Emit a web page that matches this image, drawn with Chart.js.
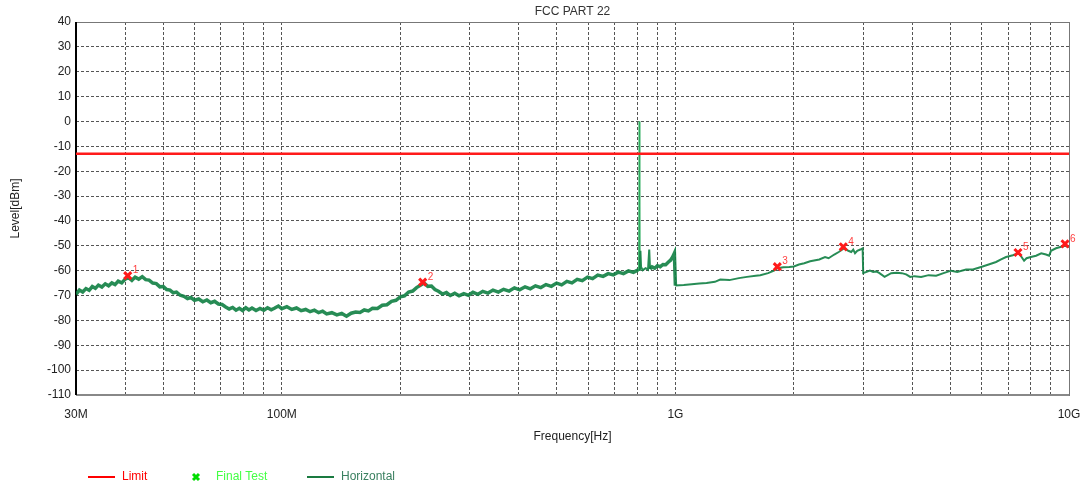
<!DOCTYPE html>
<html>
<head>
<meta charset="utf-8">
<script src="https://cdn.jsdelivr.net/npm/chart.js@4.4.1/dist/chart.umd.min.js"></script>
<style>
    html, body { margin: 0; padding: 0; background: #ffffff; }
    #wrap { width: 1087px; height: 488px; }
</style>
</head>
<body>
<div id="wrap"><canvas id="emiChart" width="1087" height="488"></canvas></div>
<script>
// frequencies in MHz, levels in dBm

var traceFreq = [
    30, 30.6, 31.2, 31.8, 32.4, 33, 33.6, 34.2, 34.9, 35.6, 36.3, 37, 37.7, 38.4, 39.2, 40, 40.8, 41.6, 42.4, 43.3,
    44.2, 45.1, 46, 47, 48, 49, 50, 51, 52, 53, 54, 55.2, 56.4, 57.6, 58.8, 60, 61.5, 63, 64.5, 66,
    67.5, 69, 70.5, 72, 73.5, 75, 76.5, 78, 79.5, 81, 82.5, 84, 86, 88, 90, 92, 94, 96, 98, 100,
    103, 106, 109, 112, 115, 118, 121, 124, 127, 130, 134, 138, 142, 146, 150, 154, 158, 162, 166, 170,
    175, 180, 185, 190, 195, 200, 205, 210, 215, 220, 225, 230, 235, 240, 245, 250, 256, 262, 268, 275,
    282, 290, 298, 306, 315, 324, 334, 344, 355, 366, 378, 390, 402, 415, 428, 441, 455, 469, 484, 499,
    514, 530, 546, 563, 580, 598, 616, 635, 655, 675, 695, 716, 738, 760, 782, 800, 806, 809, 812, 815,
    818, 826, 840, 852, 858, 862, 872, 886, 900, 915, 930, 945, 960, 972, 984, 994,
    1000, 1050, 1100, 1150, 1200, 1260, 1300, 1371, 1450, 1520, 1600, 1643, 1720, 1780, 1815, 1880, 1947, 2000, 2060, 2125,
    2200, 2320, 2400, 2450, 2533, 2600, 2685, 2750, 2797, 2830, 2860, 2897, 2950, 2990,
    3000, 3060, 3120, 3180, 3237, 3300, 3400, 3533, 3650, 3757, 3857, 3950, 4050, 4210, 4400, 4597, 4800, 5018, 5200, 5478,
    5700, 5979, 6250, 6527, 6720, 6920, 7200, 7420, 7500, 7690, 7800, 8000, 8248, 8500, 8742, 8900, 9000, 9268, 9500, 9770, 10000
];
var traceLevel = [
    -69.5, -67.8, -68.6, -67.2, -67.9, -66.4, -67.1, -65.8, -66.6, -65.3, -66.1, -64.9, -65.6, -64.2, -64.9, -63.4, -62.8, -63.9, -62.6, -63.4,
    -62.4, -63.6, -63.8, -65, -65.2, -66.5, -66.4, -67.6, -67.8, -68.9, -68.6, -69.9, -70.3, -71.2, -70.8, -71.9, -71.4, -72.5, -71.8, -72.9,
    -72.3, -73.4, -73.6, -74.6, -75.4, -74.8, -75.9, -75.1, -76, -74.9, -75.8, -75, -76, -75.2, -75.9, -74.9, -75.7, -75, -74.2, -75.3,
    -74.5, -75.6, -75, -76.1, -75.6, -76.5, -75.9, -76.9, -76.3, -77.4, -76.9, -77.8, -77.2, -78.3, -77.1, -76.6, -76.8, -75.8, -76.2, -75.1,
    -75.2, -73.9, -73.7, -72.3, -71.9, -70.5, -70.1, -68.6, -68.2, -66.8, -65.9, -65, -66.3, -66.2, -67.6, -68.3, -69.4, -68.8, -70, -69.1,
    -70.1, -69.2, -69.9, -68.7, -69.5, -68.3, -69, -67.8, -68.6, -67.5, -68.2, -66.9, -67.7, -66.5, -67.3, -66.1, -66.8, -65.6, -66.3, -65,
    -65.7, -64.3, -64.9, -63.5, -64, -62.6, -63.2, -61.8, -62.3, -61.2, -61.7, -60.6, -61.2, -60.1, -60.7, -59.9, -60.3, 0, -60, -52,
    -58.5, -59.8, -59, -59.6, -51.5, -59.3, -58.5, -59, -58, -58.4, -57.5, -57.6, -56.5, -55.8, -54.5, -53,
    -66, -65.8, -65.5, -65.2, -65, -64.5, -63.6, -63.8, -63, -62.5, -62, -61.8, -61, -60, -59, -58.6, -58.5, -58.3, -57.5, -57,
    -56.2, -55.5, -54.5, -55, -53.5, -52.5, -51, -52, -52.5, -51.5, -53, -52, -51.5, -51,
    -61, -60.5, -60, -60.5, -60.3, -61, -62.5, -61, -60.8, -61, -61.5, -62.5, -62.2, -62.5, -61.8, -62, -61, -60, -60.5, -59.5,
    -59.5, -58.5, -57.5, -56.5, -55.5, -54.5, -53.8, -53, -53.5, -56, -55, -54.5, -54, -53, -53.5, -54, -52, -51, -50.5, -50, -50.5
];

var limitFreq = [30, 10000];
var limitLevel = [-13, -13];

var markerFreq = [40.6, 228, 1815, 2670, 7420, 9770];
var markerLevel = [-62, -64.6, -58.4, -50.4, -52.7, -49.2];
var markerNames = ["1", "2", "3", "4", "5", "6"];

var gridFreq = [30, 40, 50, 60, 70, 80, 90, 100, 200, 300, 400, 500, 600, 700, 800, 900,
    1000, 2000, 3000, 4000, 5000, 6000, 7000, 8000, 9000, 10000];
var freqLabels = { 30: "30M", 100: "100M", 1000: "1G", 10000: "10G" };

var fontFamily = "'Liberation Sans', Arial, sans-serif";

function toPoints(xs, ys) {
    return xs.map(function (x, i) { return { x: x, y: ys[i] }; });
}

// title, frame, marker numbers and legend
var extrasPlugin = {
    id: "extras",
    beforeDatasetsDraw: function (chart) {
        var ctx = chart.ctx;
        var a = chart.chartArea;
        ctx.save();
        ctx.strokeStyle = "#777777";
        ctx.lineWidth = 1;
        ctx.strokeRect(a.left + 0.5, a.top + 0.5, a.right - a.left, a.bottom - a.top);
        ctx.strokeStyle = "#888888";
        ctx.lineWidth = 2;
        ctx.beginPath();
        ctx.moveTo(a.left, a.bottom);
        ctx.lineTo(a.right, a.bottom);
        ctx.stroke();
        ctx.strokeStyle = "#000000";
        ctx.beginPath();
        ctx.moveTo(a.left, a.top);
        ctx.lineTo(a.left, a.bottom);
        ctx.stroke();
        ctx.restore();
    },
    afterDraw: function (chart) {
        var ctx = chart.ctx;
        var a = chart.chartArea;
        ctx.save();
        ctx.font = "12px " + fontFamily;
        ctx.fillStyle = "#333333";
        ctx.textAlign = "center";
        ctx.textBaseline = "middle";
        ctx.fillText("FCC PART 22", (a.left + a.right) / 2, 12);

        // marker numbers
        var meta = chart.getDatasetMeta(2);
        ctx.font = "10px " + fontFamily;
        ctx.fillStyle = "#ff4040";
        ctx.textAlign = "left";
        meta.data.forEach(function (pt, i) {
            ctx.fillText(markerNames[i], pt.x + 5, pt.y - 5);
        });

        // legend
        var ly = 477;
        ctx.font = "12px " + fontFamily;
        ctx.lineWidth = 2;
        ctx.strokeStyle = "#ff0000";
        ctx.beginPath();
        ctx.moveTo(88, ly);
        ctx.lineTo(115, ly);
        ctx.stroke();
        ctx.fillStyle = "#ff0000";
        ctx.fillText("Limit", 122, ly);

        ctx.strokeStyle = "#00dd00";
        ctx.lineWidth = 3;
        ctx.beginPath();
        ctx.moveTo(193, ly - 3);
        ctx.lineTo(199, ly + 3);
        ctx.moveTo(199, ly - 3);
        ctx.lineTo(193, ly + 3);
        ctx.stroke();
        ctx.fillStyle = "#44ff44";
        ctx.fillText("Final Test", 216, ly);

        ctx.strokeStyle = "#1a7a40";
        ctx.lineWidth = 2;
        ctx.beginPath();
        ctx.moveTo(307, ly);
        ctx.lineTo(334, ly);
        ctx.stroke();
        ctx.fillStyle = "#3a8060";
        ctx.fillText("Horizontal", 341, ly);
        ctx.restore();
    }
};

function inSpike(c) {
    return c.p0.parsed.x > 804 && c.p1.parsed.x < 866;
}

var canvasElement = document.getElementById("emiChart");
var config = {
    type: "line",
    data: {
        datasets: [{
                label: "Horizontal",
                data: toPoints(traceFreq, traceLevel),
                borderColor: "rgba(16,128,66,0.9)",
                borderWidth: 3,
                pointRadius: 0,
                tension: 0,
                segment: {
                    // the narrow spikes are drawn thin, the band after 1G a bit thinner
                    borderWidth: function (c) {
                        if (inSpike(c)) return c.p0.parsed.y > -40 || c.p1.parsed.y > -40 ? 1 : 2;
                        return c.p0.parsed.x >= 1000 ? 2 : 3.5;
                    },
                    borderColor: function (c) {
                        if (c.p0.parsed.y > -40 || c.p1.parsed.y > -40) return "rgba(40,170,90,0.9)";
                        return undefined;
                    }
                },
                order: 3
            },
            {
                label: "Limit",
                data: toPoints(limitFreq, limitLevel),
                borderColor: "#ff1a1a",
                borderWidth: 2.5,
                pointRadius: 0,
                order: 2
            },
            {
                label: "Final Test",
                type: "scatter",
                data: toPoints(markerFreq, markerLevel),
                pointStyle: "crossRot",
                pointRadius: 5,
                borderColor: "#ff1a1a",
                borderWidth: 3,
                showLine: false,
                order: 1
            }
        ]
    },
    options: {
        responsive: false,
        animation: false,
        layout: {
            padding: { top: 22, right: 18, bottom: 40, left: 0 }
        },
        plugins: {
            legend: { display: false },
            title: { display: false },
            tooltip: { enabled: false }
        },
        scales: {
            x: {
                type: "logarithmic",
                min: 30,
                max: 10000,
                afterBuildTicks: function (scale) {
                    scale.ticks = gridFreq.map(function (v) { return { value: v }; });
                },
                afterFit: function (scale) {
                    scale.height = 53;
                    scale.paddingLeft = 0;
                    scale.paddingRight = 0;
                },
                grid: {
                    color: "#555555",
                    lineWidth: 1,
                    drawTicks: false
                },
                border: {
                    display: false,
                    dash: [3, 2]
                },
                ticks: {
                    autoSkip: false,
                    maxRotation: 0,
                    padding: 12,
                    color: "#222222",
                    font: { size: 12, family: fontFamily },
                    callback: function (value) { return freqLabels[value] || ""; }
                },
                title: {
                    display: true,
                    text: "Frequency[Hz]",
                    color: "#222222",
                    padding: { top: 0, bottom: 4 },
                    font: { size: 12, family: fontFamily }
                }
            },
            y: {
                min: -110,
                max: 40,
                afterFit: function (scale) {
                    scale.width = 76;
                },
                grid: {
                    color: "#555555",
                    lineWidth: 1,
                    drawTicks: false
                },
                border: {
                    display: false,
                    dash: [3, 2]
                },
                ticks: {
                    stepSize: 10,
                    padding: 5,
                    color: "#222222",
                    font: { size: 12, family: fontFamily }
                },
                title: {
                    display: true,
                    text: "Level[dBm]",
                    color: "#222222",
                    padding: { top: 8, bottom: 0 },
                    font: { size: 12, family: fontFamily }
                }
            }
        }
    },
    plugins: [extrasPlugin]
};

var emiChart = new Chart(canvasElement, config);
</script>
</body>
</html>
